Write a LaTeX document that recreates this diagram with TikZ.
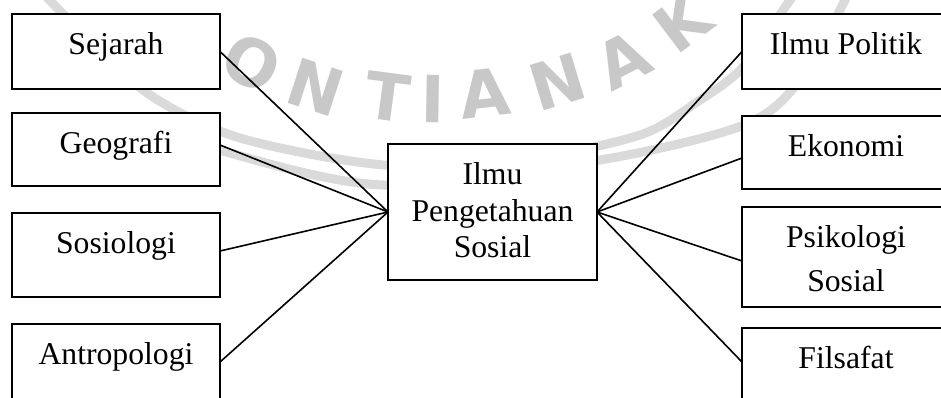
\documentclass[tikz,border=0pt]{standalone}
\usepackage{fontspec}
\setmainfont{Liberation Serif}
\newfontfamily\wmfont{DejaVu Sans}
\definecolor{wmgray}{RGB}{200,200,200}
\definecolor{wmband}{RGB}{218,218,218}
\newcommand\boxlines[1]{\parbox[t]{200pt}{\centering #1}}
\begin{document}
\begin{tikzpicture}[x=1pt,y=-1pt,
  panel/.style={draw=black, line width=1.9pt, fill=white, inner sep=0pt, outer sep=0pt,
    minimum width=208pt, anchor=north, text height=40.5pt,
    font=\fontsize{31.7}{36.5}\selectfont},
  link/.style={draw=black, line width=1.6pt},
  wmletter/.style={text=wmgray, inner sep=0pt, font=\wmfont\bfseries\fontsize{65}{65}\selectfont},
  wmstroke/.style={draw=wmband, line width=9pt, line cap=round}
]
\clip (0,0) rectangle (941,397);

% faint background emblem: ring bands and the lettering along its arc
\draw[wmstroke] plot[smooth] coordinates {(40,-10) (81,32) (150,95) (240,138) (384,165) (520,160) (640,135) (700,100) (743,67) (790,0) (800,-10)};
\draw[wmstroke] plot[smooth] coordinates {(140,120) (219,150) (384,185) (600,160) (744,125) (800,80) (850,-10)};
\foreach \ch/\x/\y/\r in {O/252/63/-27, N/316/87/-18, T/388/97/-7.5, I/433/99/-1,
                         A/485/93/6.5, N/558/82/17, A/623/60/27, K/682/22/37}
  \node[wmletter, rotate=\r] (wm\x) at (\x,\y) {\ch};

% disciplines on the left
\node[panel, text depth=34.5pt] (sej) at (116,14)  {\boxlines{Sejarah}};
\node[panel, text depth=32.5pt] (geo) at (116,113) {\boxlines{Geografi}};
\node[panel, text depth=43.5pt] (sos) at (116,213) {\boxlines{Sosiologi}};
\node[panel, text depth=39.5pt] (ant) at (116,324) {\boxlines{Antropologi}};

% disciplines on the right
\node[panel, text depth=34.5pt] (pol) at (846,14)  {\boxlines{Ilmu Politik}};
\node[panel, text depth=32.5pt] (eko) at (846,116) {\boxlines{Ekonomi}};
\node[panel, text depth=59.5pt] (psi) at (846,207) {\boxlines{Psikologi\\[7.5pt]Sosial}};
\node[panel, text depth=39.5pt] (fil) at (846,328) {\boxlines{Filsafat}};

% central field
\node[panel, minimum width=209pt, text depth=95.5pt] (hub) at (492.5,144)
  {\boxlines{Ilmu\\Pengetahuan\\Sosial}};

% connectors
\draw[link] (sej.east) -- (hub.west);
\draw[link] ([yshift=4.5pt]geo.east) -- (hub.west);
\draw[link] ([yshift=4pt]sos.east) -- (hub.west);
\draw[link] ([yshift=2pt]ant.east) -- (hub.west);
\draw[link] (pol.west) -- (hub.east);
\draw[link] ([yshift=-5.5pt]eko.west) -- (hub.east);
\draw[link] ([yshift=-4pt]psi.west) -- (hub.east);
\draw[link] ([yshift=6pt]fil.west) -- (hub.east);
\end{tikzpicture}
\end{document}
